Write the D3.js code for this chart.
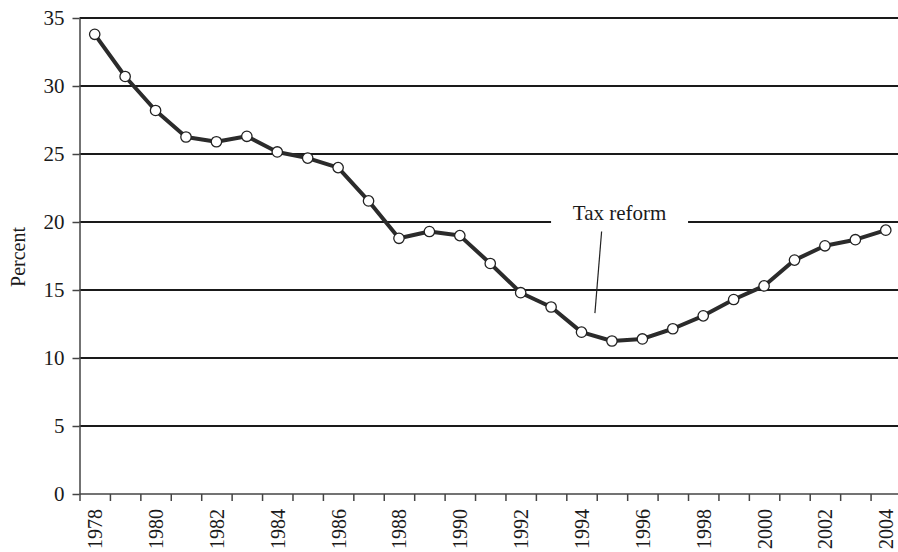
<html lang="en">
<head>
<meta charset="UTF-8">
<script src="https://d3js.org/d3.v7.min.js"></script>
<style>
    body { margin: 0; background: #fff; }
    text { font-family: "Liberation Serif", "Times New Roman", serif; fill: #1a1a1a; }
</style>
</head>
<body>
<div id="chart"></div>
<script>
    // data
    const years = [1978, 1979, 1980, 1981, 1982, 1983, 1984, 1985, 1986, 1987, 1988, 1989, 1990, 1991,
                   1992, 1993, 1994, 1995, 1996, 1997, 1998, 1999, 2000, 2001, 2002, 2003, 2004];
    const percent = [33.8, 30.7, 28.2, 26.25, 25.9, 26.3, 25.15, 24.7, 24.0, 21.55, 18.8, 19.3, 19.0, 16.95,
                     14.8, 13.75, 11.9, 11.25, 11.4, 12.15, 13.1, 14.3, 15.3, 17.2, 18.25, 18.7, 19.4];
    const yTicks = [0, 5, 10, 15, 20, 25, 30, 35];
    const xLabels = [1978, 1980, 1982, 1984, 1986, 1988, 1990, 1992, 1994, 1996, 1998, 2000, 2002, 2004];
    const noteText = "Tax reform";
    const noteAt = [1995.25, 20];          // label position (year, percent)
    const notePointer = [[1994.66, 19.3], [1994.44, 13.3]];

    const W = 898, H = 552;
    const mLeft = 79.5, mBottom = 494, mTop = 18;

    const x = d3.scaleLinear().domain([years[0] - 0.5, years[years.length - 1] + 0.5]).range([mLeft, 901]);
    const y = d3.scaleLinear().domain([0, 35]).range([mBottom, mTop]);

    const svg = d3.select("#chart").append("svg")
        .attr("width", W)
        .attr("height", H);

    // gridlines (20 is split round the note)
    const noteW = 95, gapPad = 21;
    const noteX = x(noteAt[0]);
    yTicks.filter(v => v > 0).forEach(v => {
        const segs = v === noteAt[1]
            ? [[mLeft, noteX - noteW / 2 - gapPad], [noteX + noteW / 2 + gapPad, W]]
            : [[mLeft, W]];
        segs.forEach(s => {
            svg.append("line")
                .attr("x1", s[0]).attr("x2", s[1])
                .attr("y1", y(v)).attr("y2", y(v))
                .attr("stroke", "#1a1a1a")
                .attr("stroke-width", 2);
        });
    });

    // y axis
    const yAxis = svg.append("g")
        .attr("transform", `translate(${mLeft},0)`)
        .call(d3.axisLeft(y).tickValues(yTicks).tickSize(7).tickSizeOuter(0).tickPadding(8));
    yAxis.select(".domain").attr("stroke", "#444").attr("stroke-width", 1.5);
    yAxis.selectAll(".tick line").attr("stroke", "#444").attr("stroke-width", 1.5);
    yAxis.selectAll("text").attr("font-size", 21).attr("fill", "#1a1a1a")
        .attr("font-family", "Liberation Serif");

    // x axis: ticks on year boundaries
    const bounds = years.map(d => d - 0.5);
    const xTickAxis = svg.append("g")
        .attr("transform", `translate(0,${mBottom})`)
        .call(d3.axisBottom(x).tickValues(bounds).tickSize(7).tickSizeOuter(0).tickFormat(""));
    xTickAxis.select(".domain").attr("stroke", "#444").attr("stroke-width", 1.5)
        .attr("d", `M${mLeft},0H${W}`);
    xTickAxis.selectAll(".tick line").attr("stroke", "#444").attr("stroke-width", 1.5);

    const xLabAxis = svg.append("g")
        .attr("transform", `translate(0,${mBottom})`)
        .call(d3.axisBottom(x).tickValues(xLabels).tickSize(0).tickFormat(d3.format("d")));
    xLabAxis.select(".domain").remove();
    xLabAxis.selectAll("text")
        .attr("transform", "rotate(-90)")
        .attr("text-anchor", "end")
        .attr("x", -15)
        .attr("y", 0)
        .attr("dy", "0.35em")
        .attr("font-size", 20)
        .attr("fill", "#1a1a1a")
        .attr("font-family", "Liberation Serif");

    // y title
    svg.append("text")
        .attr("transform", `translate(18,${(y(15) + y(20)) / 2 + 1}) rotate(-90)`)
        .attr("text-anchor", "middle")
        .attr("dy", "0.35em")
        .attr("font-size", 20)
        .text("Percent");

    // series
    const pts = years.map((d, i) => [d, percent[i]]);
    svg.append("path")
        .attr("d", d3.line().x(d => x(d[0])).y(d => y(d[1]))(pts))
        .attr("fill", "none")
        .attr("stroke", "#2b2b2b")
        .attr("stroke-width", 4)
        .attr("stroke-linejoin", "round");

    svg.selectAll("circle")
        .data(pts)
        .enter()
        .append("circle")
        .attr("cx", d => x(d[0]))
        .attr("cy", d => y(d[1]))
        .attr("r", 5.2)
        .attr("fill", "#fff")
        .attr("stroke", "#222")
        .attr("stroke-width", 1.3);

    // note
    svg.append("text")
        .attr("x", noteX)
        .attr("y", y(noteAt[1]) - 2)
        .attr("text-anchor", "middle")
        .attr("font-size", 21)
        .text(noteText);
    svg.append("line")
        .attr("x1", x(notePointer[0][0])).attr("y1", y(notePointer[0][1]))
        .attr("x2", x(notePointer[1][0])).attr("y2", y(notePointer[1][1]))
        .attr("stroke", "#222")
        .attr("stroke-width", 1.2);
</script>
</body>
</html>
